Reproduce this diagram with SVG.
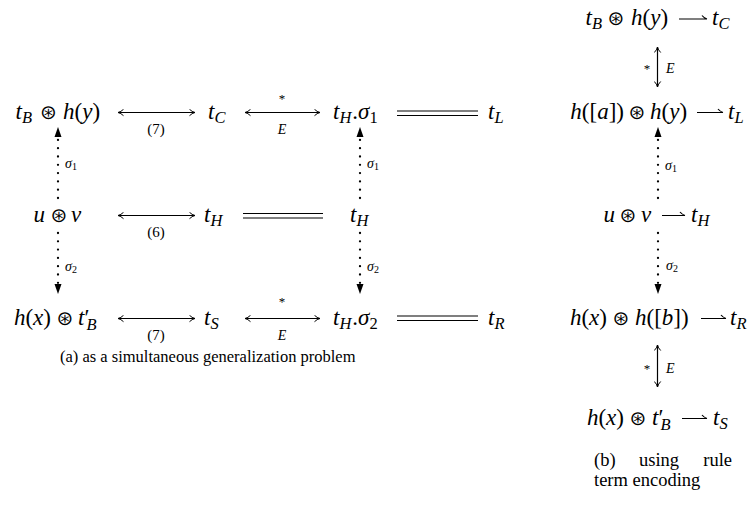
<svg xmlns="http://www.w3.org/2000/svg" width="752" height="508" viewBox="0 0 752 508">
<style>
.m{font-family:"Liberation Serif","Times New Roman","DejaVu Serif",serif;font-size:23px;font-style:italic;fill:#000}
.e{text-anchor:end}
.r{font-style:normal}
.s{font-size:16.5px}
.o{font-family:"DejaVu Sans",sans-serif;font-size:20px;font-style:normal;text-anchor:middle;fill:#000}
.lb{font-family:"Liberation Serif","Times New Roman",serif;font-size:15px;fill:#000;text-anchor:middle}
.st{font-family:"Liberation Serif","Times New Roman",serif;font-size:13px;fill:#000;text-anchor:middle}
.sg{font-family:"Liberation Serif","Times New Roman",serif;font-size:14px;font-style:italic;fill:#000}
.sg tspan{font-size:10px;font-style:normal}
.ca{font-family:"Liberation Serif","Times New Roman",serif;font-size:16.5px;fill:#000}
.cb{font-family:"Liberation Serif","Times New Roman",serif;font-size:18.5px;fill:#000}
.ln{stroke:#000;stroke-width:1.2;fill:none}
.dot{stroke:#000;stroke-width:2.3;stroke-linecap:round;stroke-dasharray:0 8.3;fill:none}
</style>
<defs>
<marker id="oh" viewBox="0 0 8 8" refX="7.5" refY="4" markerWidth="8" markerHeight="8" markerUnits="userSpaceOnUse" orient="auto-start-reverse">
<path d="M2,0.8 Q4.5,3.3 7.5,4 Q4.5,4.7 2,7.2" fill="none" stroke="#000" stroke-width="1"/>
</marker>
</defs>
<g id="connectors">
<line class="ln" x1="118" y1="112.5" x2="195" y2="112.5" marker-start="url(#oh)" marker-end="url(#oh)"/>
<line class="ln" x1="245" y1="112.5" x2="320" y2="112.5" marker-start="url(#oh)" marker-end="url(#oh)"/>
<line class="ln" x1="118" y1="215.5" x2="195" y2="215.5" marker-start="url(#oh)" marker-end="url(#oh)"/>
<line class="ln" x1="118" y1="318.5" x2="195" y2="318.5" marker-start="url(#oh)" marker-end="url(#oh)"/>
<line class="ln" x1="245" y1="318.5" x2="320" y2="318.5" marker-start="url(#oh)" marker-end="url(#oh)"/>
<path class="ln" d="M397,111 H478 M397,115.5 H478"/>
<path class="ln" d="M243,213.5 H323 M243,218 H323"/>
<path class="ln" d="M397,316 H478 M397,320.5 H478"/>
<line class="dot" x1="58" y1="198" x2="58" y2="138"/>
<polygon points="58,127 54.5,137 61.5,137"/>
<line class="dot" x1="58" y1="233" x2="58" y2="283"/>
<polygon points="58,294 54.5,284 61.5,284"/>
<line class="dot" x1="360" y1="198" x2="360" y2="138"/>
<polygon points="360,127 356.5,137 363.5,137"/>
<line class="dot" x1="360" y1="233" x2="360" y2="283"/>
<polygon points="360,294 356.5,284 363.5,284"/>
<line class="ln" x1="657.5" y1="47" x2="657.5" y2="87" marker-start="url(#oh)" marker-end="url(#oh)"/>
<line class="ln" x1="657.5" y1="345" x2="657.5" y2="387" marker-start="url(#oh)" marker-end="url(#oh)"/>
<line class="dot" x1="658" y1="198" x2="658" y2="138"/>
<polygon points="658,127 654.5,137 661.5,137"/>
<line class="dot" x1="658" y1="233" x2="658" y2="283"/>
<polygon points="658,294 654.5,284 661.5,284"/>
<path class="ln" d="M679,19 H707 M702,15.5 Q704,18 707,19"/>
<path class="ln" d="M697,112.5 H723 M718,109 Q720,111.5 723,112.5"/>
<path class="ln" d="M662,215.5 H685 M680,212 Q682,214.5 685,215.5"/>
<path class="ln" d="M701,318.5 H726 M721,315 Q723,317.5 726,318.5"/>
<path class="ln" d="M682,418.5 H707 M702,415 Q704,417.5 707,418.5"/>
</g>
<g id="labels">
<text class="lb" x="156" y="134">(7)</text>
<text class="lb" x="156" y="237">(6)</text>
<text class="lb" x="156" y="340">(7)</text>
<text class="st" x="282" y="103">*</text>
<text class="sg" x="282" y="134" text-anchor="middle">E</text>
<text class="st" x="282" y="306">*</text>
<text class="sg" x="282" y="340" text-anchor="middle">E</text>
<text class="sg" x="65" y="168">σ<tspan dy="2">1</tspan></text>
<text class="sg" x="65" y="271">σ<tspan dy="2">2</tspan></text>
<text class="sg" x="367" y="168">σ<tspan dy="2">1</tspan></text>
<text class="sg" x="367" y="271">σ<tspan dy="2">2</tspan></text>
<text class="sg" x="665" y="170">σ<tspan dy="2">1</tspan></text>
<text class="sg" x="666" y="270">σ<tspan dy="2">2</tspan></text>
<text class="st" x="647" y="73">*</text>
<text class="sg" x="666" y="73">E</text>
<text class="st" x="647" y="373">*</text>
<text class="sg" x="666" y="373">E</text>
</g>
<g id="n-tBhy">
<text class="m e" x="32" y="119">t<tspan class="s" dy="4">B</tspan></text>
<text class="o" x="48.5" y="119">⊛</text>
<text class="m" x="63" y="119">h<tspan class="r">(</tspan>y<tspan class="r">)</tspan></text>
</g>
<g id="n-tC"><text class="m" x="208" y="119">t<tspan class="s" dy="4">C</tspan></text></g>
<g id="n-tHs1"><text class="m" x="333" y="119">t<tspan class="s" dy="4">H</tspan><tspan class="r" dy="-4" dx="1">.</tspan>σ<tspan class="s r" dy="4">1</tspan></text></g>
<g id="n-tL"><text class="m" x="488" y="119">t<tspan class="s" dy="4">L</tspan></text></g>
<g id="n-uv">
<text class="m e" x="45" y="222">u</text>
<text class="o" x="59" y="222">⊛</text>
<text class="m" x="71" y="222">v</text>
</g>
<g id="n-tH1"><text class="m" x="204" y="222">t<tspan class="s" dy="4">H</tspan></text></g>
<g id="n-tH2"><text class="m" x="350" y="222">t<tspan class="s" dy="4">H</tspan></text></g>
<g id="n-hxtB">
<text class="m e" x="51" y="325">h<tspan class="r">(</tspan>x<tspan class="r">)</tspan></text>
<text class="o" x="65" y="325">⊛</text>
<text class="m" x="78" y="325">t<tspan class="r">′</tspan><tspan class="s" dy="5" dx="-3">B</tspan></text>
</g>
<g id="n-tS"><text class="m" x="204" y="325">t<tspan class="s" dy="4">S</tspan></text></g>
<g id="n-tHs2"><text class="m" x="333" y="325">t<tspan class="s" dy="4">H</tspan><tspan class="r" dy="-4" dx="1">.</tspan>σ<tspan class="s r" dy="4">2</tspan></text></g>
<g id="n-tR"><text class="m" x="488" y="325">t<tspan class="s" dy="4">R</tspan></text></g>
<g id="caption-a"><text class="ca" x="60" y="362">(a) as a simultaneous generalization problem</text></g>
<g id="r-A">
<text class="m e" x="602" y="25">t<tspan class="s" dy="4">B</tspan></text>
<text class="o" x="616" y="25">⊛</text>
<text class="m" x="631" y="25">h<tspan class="r">(</tspan>y<tspan class="r">)</tspan></text>
<text class="m" x="712" y="25">t<tspan class="s" dy="4">C</tspan></text>
</g>
<g id="r-B">
<text class="m e" x="624" y="119">h<tspan class="r">([</tspan>a<tspan class="r">])</tspan></text>
<text class="o" x="637" y="119">⊛</text>
<text class="m" x="650" y="119">h<tspan class="r">(</tspan>y<tspan class="r">)</tspan></text>
<text class="m" x="728" y="119">t<tspan class="s" dy="4">L</tspan></text>
</g>
<g id="r-C">
<text class="m e" x="615" y="222">u</text>
<text class="o" x="628" y="222">⊛</text>
<text class="m" x="641" y="222">v</text>
<text class="m" x="691" y="222">t<tspan class="s" dy="4">H</tspan></text>
</g>
<g id="r-D">
<text class="m e" x="607" y="325">h<tspan class="r">(</tspan>x<tspan class="r">)</tspan></text>
<text class="o" x="621" y="325">⊛</text>
<text class="m" x="635" y="325">h<tspan class="r">([</tspan>b<tspan class="r">])</tspan></text>
<text class="m" x="730" y="325">t<tspan class="s" dy="4">R</tspan></text>
</g>
<g id="r-E">
<text class="m e" x="624" y="425">h<tspan class="r">(</tspan>x<tspan class="r">)</tspan></text>
<text class="o" x="638" y="425">⊛</text>
<text class="m" x="652" y="425">t<tspan class="r">′</tspan><tspan class="s" dy="5" dx="-3">B</tspan></text>
<text class="m" x="713" y="425">t<tspan class="s" dy="4">S</tspan></text>
</g>
<g id="caption-b">
<text class="cb" x="594" y="466">(b)</text>
<text class="cb" x="639" y="466">using</text>
<text class="cb" x="732" y="466" text-anchor="end">rule</text>
<text class="cb" x="594" y="486">term encoding</text>
</g>
</svg>
